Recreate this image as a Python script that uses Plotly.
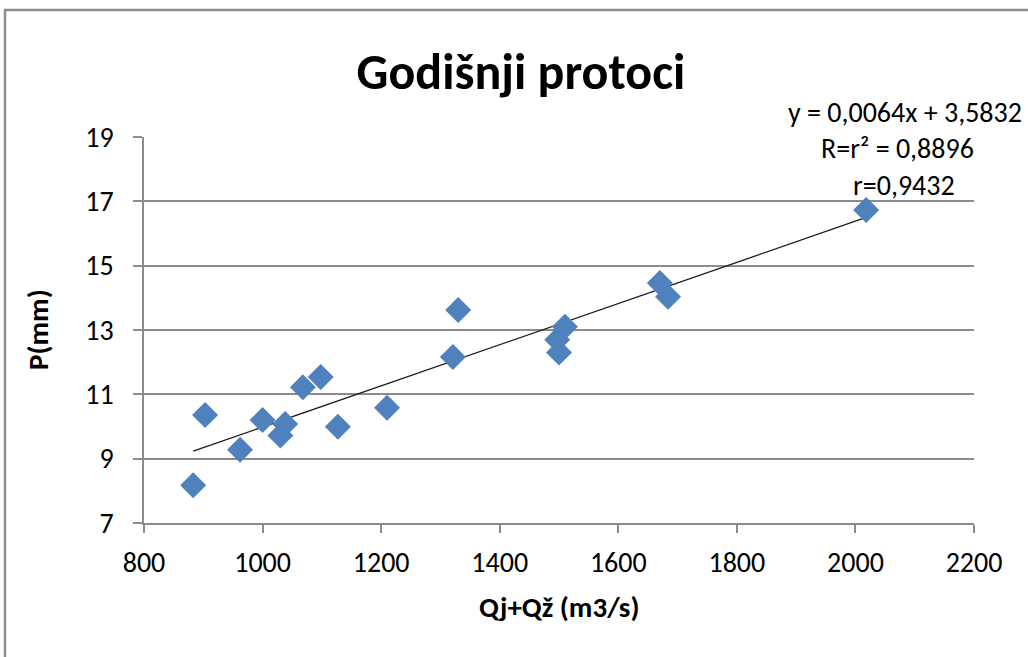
import plotly.graph_objects as go

# Annual flows: combined discharge vs. precipitation
flow_q = [2018, 1670, 1684, 1330, 1510, 1497, 1500, 1321, 1210, 1098, 1068,
          1127, 903, 1000, 1038, 1030, 962, 883]
precip_p = [16.73, 14.46, 14.03, 13.62, 13.10, 12.70, 12.30, 12.16, 10.58, 11.54, 11.22,
            9.99, 10.36, 10.20, 10.08, 9.72, 9.28, 8.17]

# Linear regression reported on the chart
slope = 0.0064
intercept = 3.5832
r_squared = "0,8896"
r_value = "0,9432"

x_ticks = [800, 1000, 1200, 1400, 1600, 1800, 2000, 2200]
y_ticks = [7, 9, 11, 13, 15, 17, 19]

FONT = "Carlito, Calibri, 'Liberation Sans Narrow', 'Liberation Sans', sans-serif"
BLUE = "#4F81BD"
GRAY = "#8c8c8c"

x_fit = [min(flow_q), max(flow_q)]
y_fit = [slope * v + intercept for v in x_fit]

fig = go.Figure()
fig.add_trace(go.Scatter(
    x=x_fit, y=y_fit, mode="lines",
    line=dict(color="#1a1a1a", width=1.3),
    hoverinfo="skip", showlegend=False,
))
fig.add_trace(go.Scatter(
    x=flow_q, y=precip_p, mode="markers",
    marker=dict(symbol="diamond", size=20, color=BLUE),
    showlegend=False,
))

# plot-area pixel geometry (for paper-coordinate placement)
L, R, T, B = 144, 974, 137, 523
W, H = 1028, 657


def px(xp):
    return (xp - L) / (R - L)


def py(yp):
    return (B - yp) / (B - T)


def fmt(v):
    return str(v).replace(".", ",")


fig.update_layout(
    width=W, height=H,
    margin=dict(l=L, r=W - R, t=T, b=H - B),
    paper_bgcolor="white", plot_bgcolor="white",
    font=dict(family=FONT, color="#000000", size=28),
    title=dict(text="<b>Godišnji protoci</b>", xref="container", x=521 / W,
               xanchor="center", yref="container", y=1 - 71 / H, yanchor="middle",
               font=dict(family=FONT, size=50, color="#000000")),
    xaxis=dict(
        range=[800, 2200], tickvals=x_ticks, ticktext=[str(v) for v in x_ticks],
        showgrid=False, zeroline=False,
        showline=True, linecolor=GRAY, linewidth=1.5,
        ticks="outside", ticklen=8, tickcolor=GRAY, tickwidth=1.5,
        tickfont=dict(size=28), ticklabelstandoff=6,
    ),
    yaxis=dict(
        range=[7, 19], tickvals=y_ticks, ticktext=[str(v) for v in y_ticks],
        showgrid=True, gridcolor=GRAY, gridwidth=1.5, zeroline=False,
        showline=True, linecolor=GRAY, linewidth=1.5,
        ticks="outside", ticklen=9, tickcolor=GRAY, tickwidth=1.5,
        tickfont=dict(size=28), ticklabelstandoff=14,
    ),
    shapes=[
        # outer chart border
        dict(type="rect", xref="paper", yref="paper",
             x0=px(5), x1=px(1040), y0=py(670), y1=py(10),
             line=dict(color=GRAY, width=2.5), layer="below"),
    ],
    annotations=[
        # axis titles
        dict(xref="paper", yref="paper", x=0.5, y=py(607),
             text="<b>Qj+Qž (m3/s)</b>", showarrow=False,
             xanchor="center", yanchor="middle", font=dict(size=29)),
        dict(xref="paper", yref="paper", x=px(38), y=0.5,
             text="<b>P(mm)</b>", showarrow=False, textangle=-90,
             xanchor="center", yanchor="middle", font=dict(size=29)),
        # regression equation and coefficients
        dict(xref="paper", yref="paper", x=px(905), y=py(112),
             text=f"y = {fmt(slope)}x + {fmt(intercept)}",
             showarrow=False, xanchor="center", yanchor="middle",
             font=dict(size=28)),
        dict(xref="paper", yref="paper", x=px(897), y=py(148),
             text=f"R=r² = {r_squared}", showarrow=False,
             xanchor="center", yanchor="middle", font=dict(size=28)),
        dict(xref="paper", yref="paper", x=px(904), y=py(185),
             text=f"r={r_value}", showarrow=False,
             xanchor="center", yanchor="middle", font=dict(size=28)),
    ],
)

fig.write_html("out.html")
